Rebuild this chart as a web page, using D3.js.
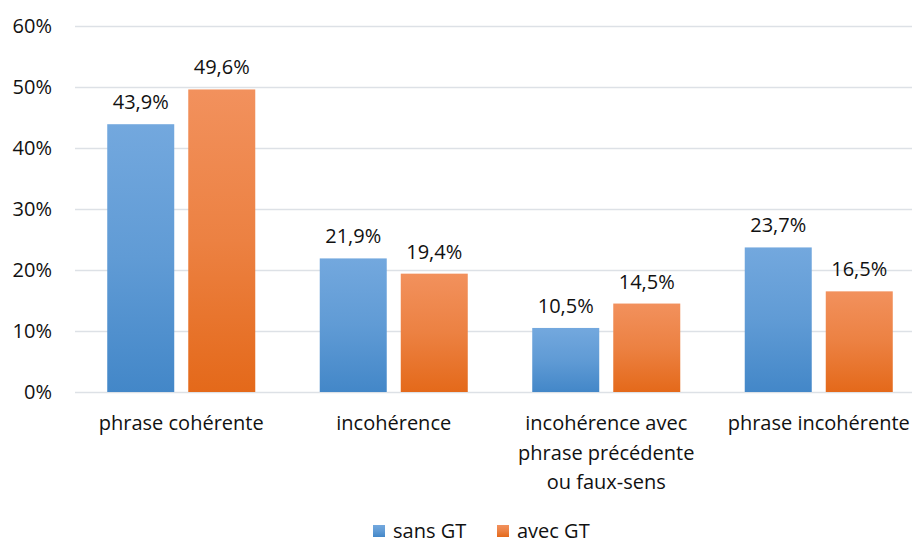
<!DOCTYPE html>
<html>
<head>
    <meta charset="utf-8">
    <title>Cohérence</title>
    <style>
        body { margin: 0; background: #fff; }
        text { font-family: "Open Sans", Lato, "Liberation Sans", sans-serif; fill: #111; }
    </style>
    <script src="https://d3js.org/d3.v7.min.js"></script>
</head>
<body>
<svg id="chart"></svg>
<script>
    const categories = [
        ['phrase cohérente'],
        ['incohérence'],
        ['incohérence avec', 'phrase précédente', 'ou faux-sens'],
        ['phrase incohérente']
    ];
    const seriesNames = ['sans GT', 'avec GT'];
    const sansGT = [43.9, 21.9, 10.5, 23.7];
    const avecGT = [49.6, 19.4, 14.5, 16.5];
    const yTicks = [0, 10, 20, 30, 40, 50, 60];

    const W = 912, H = 543;
    const M = {left: 75, right: -13, top: 26, bottom: 151};
    const FS = '20px';

    const svg = d3.select('#chart').attr('width', W).attr('height', H);

    // gradients like the office style fills
    const defs = svg.append('defs');
    const grads = [['gBlue', '#73a8de', '#4387c8'], ['gOrange', '#f2915d', '#e4691a']];
    grads.forEach(([id, top, bot]) => {
        const g = defs.append('linearGradient').attr('id', id)
            .attr('x1', 0).attr('y1', 0).attr('x2', 0).attr('y2', 1);
        g.append('stop').attr('offset', '0%').attr('stop-color', top);
        g.append('stop').attr('offset', '50%').attr('stop-color', d3.interpolateRgb(top, bot)(0.4));
        g.append('stop').attr('offset', '100%').attr('stop-color', bot);
    });
    const fills = ['url(#gBlue)', 'url(#gOrange)'];

    const x = d3.scaleBand().domain(d3.range(categories.length))
        .range([M.left, W - M.right]).paddingInner(0).paddingOuter(0);
    const x1 = d3.scaleBand().domain([0, 1]).range([0, x.bandwidth()])
        .paddingInner(0.173).paddingOuter(0.398);
    const y = d3.scaleLinear().domain([0, 60]).range([H - M.bottom, M.top]);

    // grid lines
    svg.append('g').selectAll('line').data(yTicks).join('line')
        .attr('x1', M.left).attr('x2', W)
        .attr('y1', d => Math.round(y(d)) + 0.5).attr('y2', d => Math.round(y(d)) + 0.5)
        .attr('stroke', '#dde1e6').attr('stroke-width', 1.3);

    // y labels
    svg.append('g').selectAll('text').data(yTicks).join('text')
        .attr('x', 52).attr('y', d => y(d)).attr('dy', '0.35em')
        .attr('text-anchor', 'end').style('font-size', FS)
        .text(d => d + '%');

    const series = [sansGT, avecGT];
    series.forEach((vals, s) => {
        const g = svg.append('g');
        g.selectAll('rect').data(vals).join('rect')
            .attr('x', (d, i) => x(i) + x1(s))
            .attr('width', x1.bandwidth())
            .attr('y', d => y(d))
            .attr('height', d => y(0) - y(d))
            .attr('fill', fills[s]);
        g.selectAll('text').data(vals).join('text')
            .attr('x', (d, i) => x(i) + x1(s) + x1.bandwidth() / 2)
            .attr('y', d => y(d) - 15)
            .attr('text-anchor', 'middle').style('font-size', FS)
            .text(d => d.toFixed(1).replace('.', ',') + '%');
    });

    // category labels
    const cat = svg.append('g').selectAll('text').data(categories).join('text')
        .attr('x', (d, i) => x(i) + x.bandwidth() / 2)
        .attr('y', 430)
        .attr('text-anchor', 'middle').style('font-size', FS);
    cat.selectAll('tspan').data(d => d).join('tspan')
        .attr('x', function () { return d3.select(this.parentNode).attr('x'); })
        .attr('dy', (d, i) => i === 0 ? 0 : 29.5)
        .text(d => d);

    // legend
    const legend = svg.append('g');
    const lx = [373, 497];
    seriesNames.forEach((n, i) => {
        legend.append('rect').attr('x', lx[i]).attr('y', 525).attr('width', 12).attr('height', 12)
            .attr('fill', fills[i]);
        legend.append('text').attr('x', lx[i] + 20).attr('y', 531).attr('dy', '0.35em')
            .style('font-size', FS).text(n);
    });
</script>
</body>
</html>
